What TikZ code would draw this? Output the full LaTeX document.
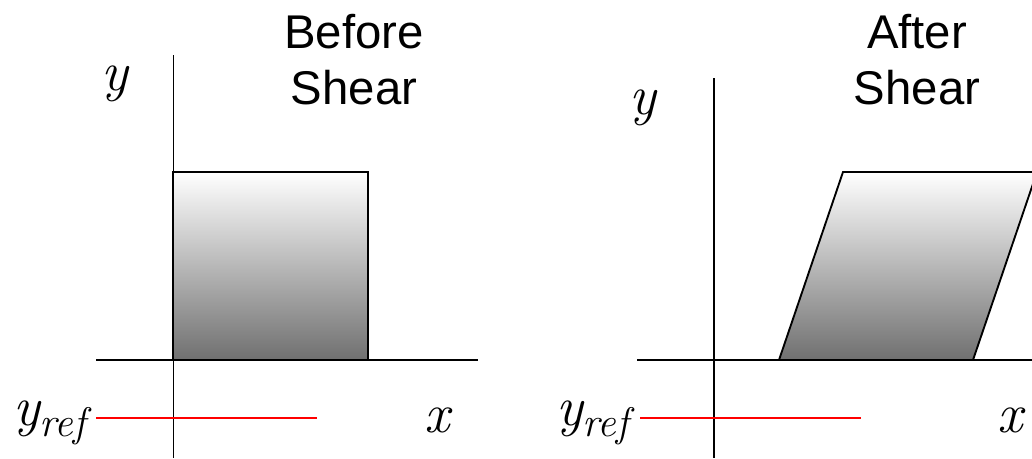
\documentclass[tikz,border=0pt]{standalone}
\usepackage{fontspec}
\setmainfont{Liberation Sans}
\newfontfamily\lmrfont{Latin Modern Roman}
\newcommand{\mvar}[1]{{\lmrfont\itshape #1}}
\newcommand{\yrefsym}{{\lmrfont\itshape y\raisebox{-0.2em}{\fontsize{31}{31}\selectfont ref}}}
\definecolor{shadedark}{RGB}{112,112,112}
\definecolor{refred}{RGB}{255,0,0}
\tikzset{
  axis/.style={line width=1.4pt, black},
  shape outline/.style={line width=1.4pt, black},
  refline/.style={line width=1.3pt, refred},
  shadefill/.style={top color=white, bottom color=shadedark},
  title/.style={align=center, font=\fontsize{35.5}{42}\selectfont, inner sep=0pt},
  mathlab/.style={font=\fontsize{42}{42}\selectfont, inner sep=0pt},
}
\begin{document}
\begin{tikzpicture}[x=0.75pt,y=-0.75pt]
\useasboundingbox (0,0) rectangle (1032,458);
\clip (0,0) rectangle (1032,458);
% ---- left panel: before shear
\shade[shadefill] (173,172) rectangle (368,360);
\draw[shape outline] (173,172) rectangle (368,360);
\draw[axis] (173.5,55) -- (173.5,458);
\draw[axis] (96,360) -- (478,360);
\coordinate (r1a) at (96,418);
\coordinate (r1b) at (317,418);
\draw[refline] (r1a) -- (r1b);
\node[title] (t1) at (354,60) {Before\\Shear};
\node[mathlab] (y1) at (115,84) {\mvar{y}};
\node[mathlab, anchor=east] (yr1) at (86,423) {\yrefsym};
\node[mathlab] (x1) at (437,420) {\mvar{x}};
% ---- right panel: after shear
\shade[shadefill] (779,360) -- (843,172) -- (1037,172) -- (973,360) -- cycle;
\draw[shape outline] (779,360) -- (843,172) -- (1037,172) -- (973,360) -- cycle;
\draw[axis] (714,78) -- (714,458);
\draw[axis] (637,360) -- (1040,360);
\coordinate (r2a) at (640,418);
\coordinate (r2b) at (861,418);
\draw[refline] (r2a) -- (r2b);
\node[title] (t2) at (917,60) {After\\Shear};
\node[mathlab] (y2) at (643,108) {\mvar{y}};
\node[mathlab, anchor=east] (yr2) at (629,423) {\yrefsym};
\node[mathlab] (x2) at (1010,420) {\mvar{x}};
\end{tikzpicture}
\end{document}
